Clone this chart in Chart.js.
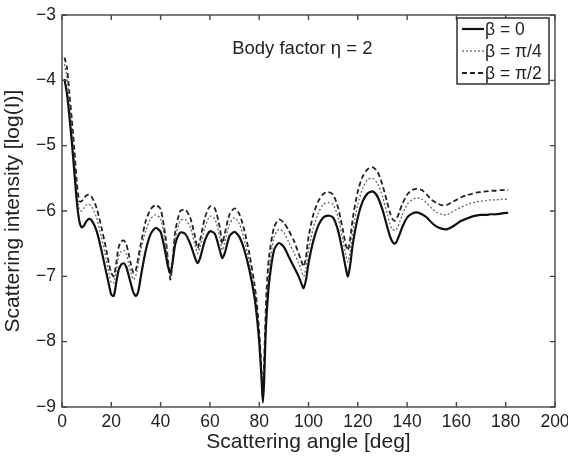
<!DOCTYPE html>
<html>
<head>
<meta charset="utf-8">
<script src="https://cdn.jsdelivr.net/npm/chart.js@4/dist/chart.umd.min.js"></script>
<style>
  html, body { margin: 0; padding: 0; background: #fff; }
  #wrap { width: 568px; height: 456px; }
</style>
</head>
<body>
<div id="wrap"><canvas id="chart" width="568" height="456"></canvas></div>
<script>
// scattering angle samples [deg]
const angles = [1,2,3,4,5,6,7,8,9,10,11,12,14,16,18,19,20,21,22,23,24,25,26,27,28,29,30,31,32,34,36,38,40,42,43,44,45,46,48,50,52,54,55,56,58,60,62,64,65,66,68,70,72,74,76,78,79,80,81,81.5,82,82.5,83,84,86,88,90,92,94,96,97,98,99,100,102,104,106,108,110,112,114,115,116,117,118,120,122,124,126,128,130,132,133,134,135,136,137,138,140,142,144,146,148,150,152,154,156,158,160,162,164,166,168,170,172,174,176,178,180,181];

// beta = 0 (solid)
const beta0 = [-3.98,-4.2,-4.55,-4.95,-5.4,-5.85,-6.15,-6.25,-6.22,-6.15,-6.12,-6.14,-6.3,-6.6,-6.95,-7.12,-7.28,-7.3,-7.1,-6.9,-6.82,-6.8,-6.85,-6.98,-7.12,-7.25,-7.3,-7.22,-7.0,-6.6,-6.35,-6.26,-6.32,-6.65,-6.85,-6.95,-6.75,-6.5,-6.33,-6.35,-6.5,-6.72,-6.8,-6.72,-6.45,-6.31,-6.35,-6.6,-6.72,-6.65,-6.38,-6.32,-6.4,-6.6,-6.9,-7.3,-7.6,-8.0,-8.6,-8.93,-8.6,-8.0,-7.6,-7.1,-6.6,-6.49,-6.55,-6.7,-6.85,-7.0,-7.1,-7.18,-7.05,-6.8,-6.45,-6.22,-6.1,-6.07,-6.1,-6.3,-6.65,-6.85,-7.0,-6.8,-6.5,-6.1,-5.85,-5.73,-5.7,-5.78,-5.98,-6.25,-6.38,-6.47,-6.5,-6.45,-6.35,-6.25,-6.1,-6.04,-6.02,-6.05,-6.1,-6.18,-6.24,-6.27,-6.28,-6.25,-6.2,-6.15,-6.12,-6.09,-6.07,-6.06,-6.06,-6.05,-6.05,-6.04,-6.03,-6.03];

// beta = pi/4 (dotted)
const betaQuarter = [-3.75,-3.95,-4.35,-4.75,-5.2,-5.7,-5.98,-6.0,-5.95,-5.9,-5.9,-5.93,-6.1,-6.4,-6.75,-6.95,-7.1,-7.1,-6.92,-6.7,-6.62,-6.6,-6.65,-6.8,-6.95,-7.05,-6.98,-6.8,-6.6,-6.3,-6.12,-6.06,-6.12,-6.5,-6.8,-7.0,-6.72,-6.4,-6.15,-6.13,-6.25,-6.52,-6.65,-6.55,-6.25,-6.08,-6.12,-6.4,-6.6,-6.48,-6.2,-6.1,-6.2,-6.45,-6.78,-7.2,-7.5,-7.95,-8.55,-8.9,-8.45,-7.85,-7.4,-6.9,-6.4,-6.28,-6.33,-6.48,-6.63,-6.8,-6.9,-7.0,-6.87,-6.6,-6.25,-6.03,-5.9,-5.87,-5.9,-6.1,-6.45,-6.65,-6.78,-6.6,-6.3,-5.9,-5.65,-5.52,-5.5,-5.58,-5.78,-6.05,-6.2,-6.28,-6.3,-6.26,-6.17,-6.07,-5.9,-5.83,-5.8,-5.82,-5.88,-5.96,-6.02,-6.05,-6.06,-6.02,-5.98,-5.94,-5.91,-5.88,-5.86,-5.85,-5.84,-5.83,-5.83,-5.82,-5.82,-5.82];

// beta = pi/2 (dashed)
const betaHalf = [-3.65,-3.8,-4.2,-4.6,-5.05,-5.55,-5.85,-5.85,-5.8,-5.76,-5.75,-5.78,-5.95,-6.25,-6.6,-6.8,-6.95,-7.0,-6.8,-6.55,-6.47,-6.45,-6.5,-6.65,-6.82,-6.95,-6.9,-6.7,-6.5,-6.15,-5.97,-5.91,-5.97,-6.4,-6.75,-7.05,-6.7,-6.3,-6.0,-5.98,-6.1,-6.4,-6.57,-6.45,-6.1,-5.93,-5.96,-6.25,-6.5,-6.35,-6.05,-5.96,-6.05,-6.3,-6.65,-7.1,-7.4,-7.85,-8.5,-8.85,-8.3,-7.7,-7.2,-6.7,-6.25,-6.13,-6.18,-6.3,-6.45,-6.65,-6.75,-6.85,-6.7,-6.4,-6.05,-5.85,-5.74,-5.71,-5.75,-5.95,-6.3,-6.5,-6.6,-6.4,-6.1,-5.7,-5.47,-5.36,-5.33,-5.4,-5.6,-5.88,-6.02,-6.12,-6.15,-6.1,-6.0,-5.9,-5.75,-5.68,-5.66,-5.68,-5.75,-5.83,-5.88,-5.91,-5.91,-5.87,-5.83,-5.79,-5.76,-5.74,-5.72,-5.71,-5.7,-5.69,-5.69,-5.68,-5.68,-5.68];

const xTicks = [0,20,40,60,80,100,120,140,160,180,200];
const yTicks = [-9,-8,-7,-6,-5,-4,-3];
const legendLabels = ["β = 0", "β = π/4", "β = π/2"];
const annotation = "Body factor η = 2";

const FONT = "'Liberation Sans', Arial, sans-serif";

function toPoints(ys) {
  return angles.map((a, i) => ({ x: a, y: ys[i] }));
}

// MATLAB-ish frame with inward ticks, the note and the boxed legend
const framePlugin = {
  id: "frame",
  afterDraw(chart) {
    const ctx = chart.ctx;
    const a = chart.chartArea;
    const xs = chart.scales.x, ys = chart.scales.y;
    ctx.save();
    ctx.strokeStyle = "#444";
    ctx.lineWidth = 1.4;
    ctx.strokeRect(a.left, a.top, a.right - a.left, a.bottom - a.top);
    ctx.beginPath();
    xTicks.forEach(v => {
      const px = xs.getPixelForValue(v);
      ctx.moveTo(px, a.bottom); ctx.lineTo(px, a.bottom - 5);
      ctx.moveTo(px, a.top); ctx.lineTo(px, a.top + 5);
    });
    yTicks.forEach(v => {
      const py = ys.getPixelForValue(v);
      ctx.moveTo(a.left, py); ctx.lineTo(a.left + 5, py);
      ctx.moveTo(a.right, py); ctx.lineTo(a.right - 5, py);
    });
    ctx.stroke();

    // note
    ctx.fillStyle = "#222";
    ctx.font = "18.5px " + FONT;
    ctx.textAlign = "center";
    ctx.textBaseline = "middle";
    ctx.fillText(annotation, xs.getPixelForValue(97.5), ys.getPixelForValue(-3.52));

    // legend
    const bx = 457, by = 18, bw = 92, bh = 66;
    ctx.fillStyle = "#fff";
    ctx.fillRect(bx, by, bw, bh);
    ctx.strokeStyle = "#222";
    ctx.lineWidth = 1.4;
    ctx.strokeRect(bx, by, bw, bh);
    chart.data.datasets.forEach((ds, i) => {
      const yy = by + 11 + i * 22;
      ctx.save();
      ctx.strokeStyle = ds.borderColor;
      ctx.lineWidth = ds.borderWidth;
      ctx.setLineDash(ds.borderDash || []);
      ctx.beginPath();
      ctx.moveTo(bx + 5, yy); ctx.lineTo(bx + 27, yy);
      ctx.stroke();
      ctx.restore();
      ctx.fillStyle = "#222";
      ctx.font = "17.5px " + FONT;
      ctx.textAlign = "left";
      ctx.textBaseline = "middle";
      ctx.fillText(legendLabels[i], bx + 28, yy + 1);
    });
    ctx.restore();
  }
};

new Chart(document.getElementById("chart"), {
  type: "line",
  data: {
    datasets: [
      { label: legendLabels[0], data: toPoints(beta0), borderColor: "#111", borderWidth: 2.2, pointRadius: 0, tension: 0.25, fill: false },
      { label: legendLabels[1], data: toPoints(betaQuarter), borderColor: "#666", borderWidth: 1.3, borderDash: [2, 2], pointRadius: 0, tension: 0.25, fill: false },
      { label: legendLabels[2], data: toPoints(betaHalf), borderColor: "#222", borderWidth: 1.8, borderDash: [5, 3], pointRadius: 0, tension: 0.25, fill: false }
    ]
  },
  options: {
    responsive: false,
    animation: false,
    layout: { padding: { top: 15, right: 13, left: 0, bottom: 0 } },
    plugins: { legend: { display: false }, tooltip: { enabled: false } },
    scales: {
      x: {
        type: "linear",
        min: 0, max: 200,
        afterFit(s) { s.height = 49; s.paddingLeft = 0; s.paddingRight = 0; },
        afterBuildTicks(s) { s.ticks = xTicks.map(v => ({ value: v })); },
        grid: { display: false, drawTicks: false },
        border: { display: false },
        ticks: { color: "#222", font: { family: FONT, size: 17.5 }, padding: 5, maxRotation: 0, autoSkip: false },
        title: { display: true, text: "Scattering angle [deg]", color: "#222", font: { family: FONT, size: 21 }, padding: { top: 0, bottom: 1 } }
      },
      y: {
        type: "linear",
        min: -9, max: -3,
        afterFit(s) { s.width = 62; s.paddingTop = 0; s.paddingBottom = 0; },
        afterBuildTicks(s) { s.ticks = yTicks.map(v => ({ value: v })); },
        grid: { display: false, drawTicks: false },
        border: { display: false },
        ticks: { color: "#222", font: { family: FONT, size: 17.5 }, padding: 6, callback: v => String(v).replace("-", "\u2212") },
        title: { display: true, text: "Scattering intensity [log(I)]", color: "#222", font: { family: FONT, size: 21 }, padding: { top: 1, bottom: 0 } }
      }
    }
  },
  plugins: [framePlugin]
});
</script>
</body>
</html>
